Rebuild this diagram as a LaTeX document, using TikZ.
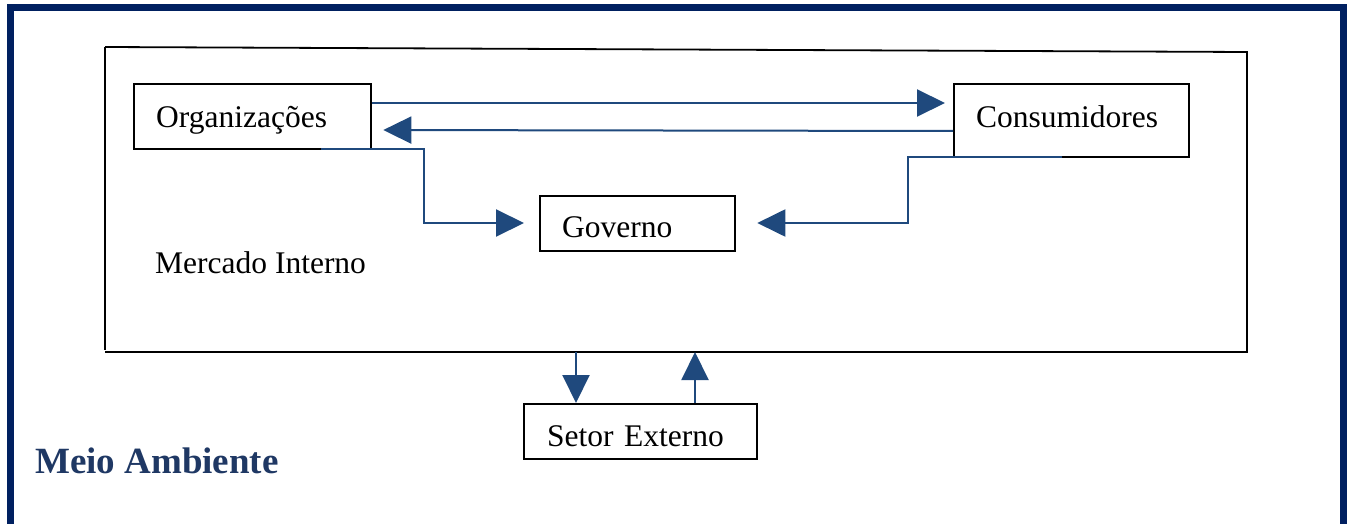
\documentclass[tikz,border=0pt]{standalone}
\usepackage{fontspec}
\setmainfont{Liberation Serif}
\usetikzlibrary{arrows.meta}
\definecolor{framecol}{HTML}{002060}
\definecolor{arrcol}{HTML}{1F497D}
\definecolor{titlecol}{HTML}{1F3864}
\begin{document}
\begin{tikzpicture}[x=1pt,y=-1pt,
  box/.style={draw=black, line width=2.3pt, rectangle, anchor=north west, align=left,
    inner ysep=0pt, inner xsep=22pt, text height=21pt, text depth=0pt,
    font=\fontsize{31.5}{36}\selectfont},
  lbl/.style={anchor=base west, inner sep=0pt, font=\fontsize{31.5}{36}\selectfont},
  conn/.style={draw=arrcol, line width=2pt, -{Triangle[length=28pt,width=27pt]}},
  plainline/.style={draw=arrcol, line width=2pt}]
\useasboundingbox (0,0) rectangle (1347,524);
\begin{scope}
  \clip (0,0) rectangle (1347,524);
  \draw[framecol, line width=7pt] (10.5,600) -- (10.5,7.5) -- (1343.5,7.5) -- (1343.5,600);
\end{scope}
% Mercado Interno box
\coordinate (mtl) at (105,47);
\coordinate (mtr) at (1247,52);
\coordinate (mbr) at (1247,352);
\coordinate (mbl) at (105,352);
\draw[black, line width=1.8pt] (mtl) -- (mtr) -- (mbr);
\draw[black, line width=1.8pt] (mtl) -- (105,350);
\draw[black, line width=2.2pt] (mbl) -- (1248,352);
\node[lbl] (mercado) at (155,273) {Mercado Interno};
% boxes
\node[box, minimum width=237pt, minimum height=65pt, text width=193pt] (org) at (133,83) {Organizações};
\node[box, minimum width=235pt, minimum height=73pt, text width=191pt, text depth=8pt] (cons) at (953,83) {Consumidores};
\node[box, minimum width=195pt, minimum height=55pt, text width=151pt, text height=28pt] (gov) at (539,195) {Governo};
\node[box, minimum width=233pt, minimum height=55pt, text width=187pt, inner xsep=23pt, text height=29pt] (setor) at (523,403) {Setor Externo};
\node[lbl, font=\fontsize{37}{42}\selectfont\bfseries, text=titlecol] (meio) at (35,473) {Meio Ambiente};
% connectors
\draw[conn, shorten >=8pt] (org.east |- 0,103) -- (cons.west |- 0,103);
\draw[conn, shorten >=11pt] (cons.west |- 0,131) -- (org.east |- 0,130);
\draw[conn, shorten >=15pt] (321,149) -- (424,149) -- (424,223) -- (gov.west |- 0,223);
\draw[conn, shorten >=21pt] (1062,157) -- (908,157) -- (908,223) -- (gov.east |- 0,223);
\draw[conn] (576,0 |- mbl) -- (576,0 |- setor.north);
\draw[conn] (695,0 |- setor.north) -- (695,0 |- mbl);
\end{tikzpicture}
\end{document}
